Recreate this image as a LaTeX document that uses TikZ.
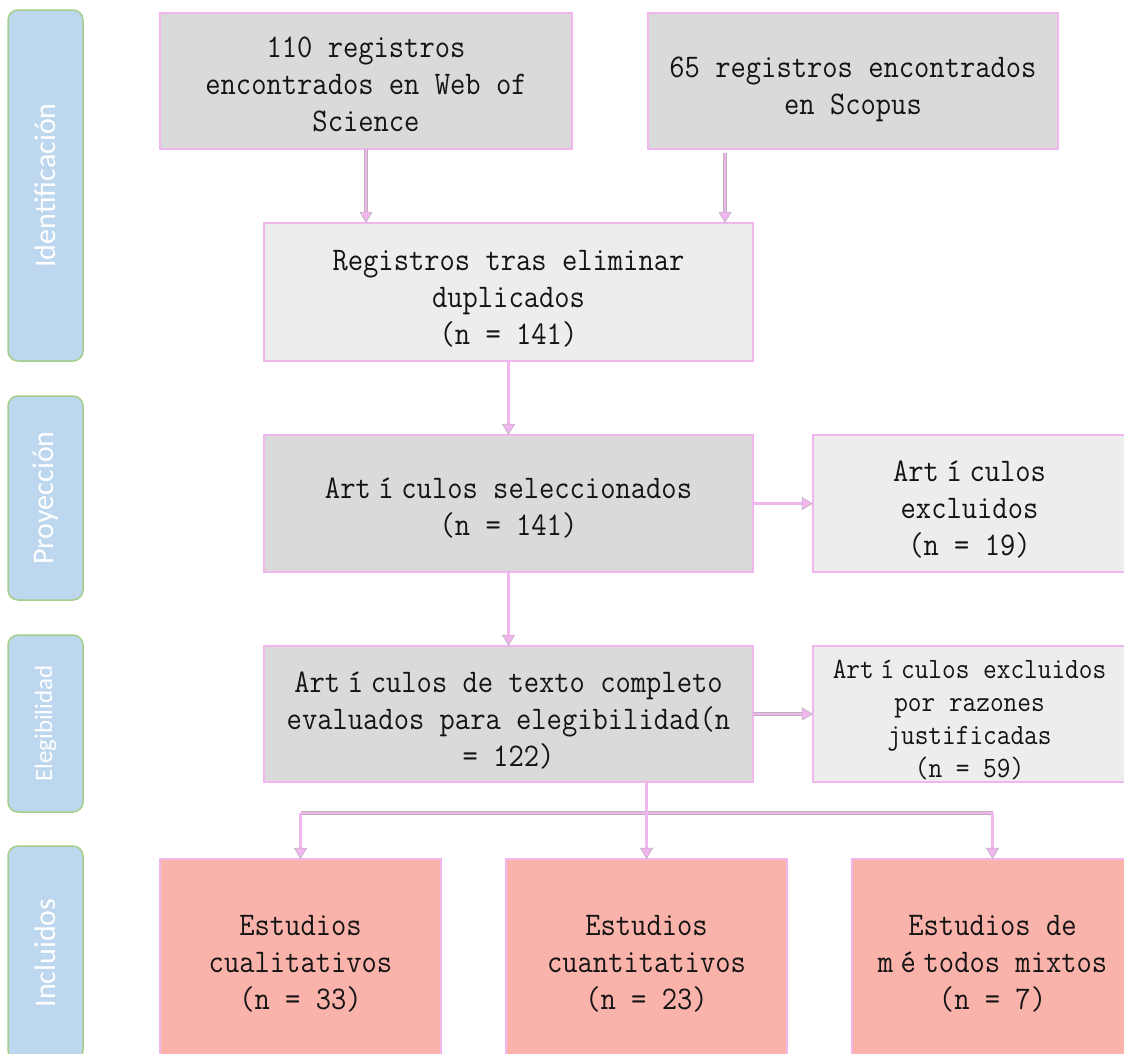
\documentclass[tikz,border=0pt]{standalone}
\usepackage{fontspec}
\setmainfont{Latin Modern Mono}[FakeStretch=0.9]
\newfontfamily\sidefont{Carlito}
\usetikzlibrary{arrows.meta}
\definecolor{boxgray}{HTML}{DADADA}
\definecolor{boxlight}{HTML}{EDEDED}
\definecolor{boxsalmon}{HTML}{FAB3AA}
\definecolor{pinkline}{HTML}{F2B6EE}
\definecolor{edgegray}{HTML}{BCB0BC}
\definecolor{sideblue}{HTML}{BDD7EE}
\definecolor{sidegreen}{HTML}{A6CE8B}
\newcommand{\fw}[1]{\setbox0\hbox{xx}\makebox[\wd0][c]{#1}}
\newcommand{\bt}[2][0pt]{\raisebox{#1}[\height][\depth]{\begin{tabular}{@{}c@{}}#2\end{tabular}}}
\begin{document}
\begin{tikzpicture}[x=1pt,y=-1pt,
  basebox/.style={draw=edgegray, line width=0.35pt, double=pinkline, double distance=1.1pt,
    inner sep=0pt, text=black!92, font=\fontsize{33}{37}\selectfont},
  gbox/.style={basebox, fill=boxgray},
  lbox/.style={basebox, fill=boxlight},
  sbox/.style={basebox, fill=boxsalmon},
  side/.style={draw=sidegreen, line width=1.5pt, fill=sideblue, rounded corners=10pt,
    text=white, inner sep=0pt, font=\sidefont\fontsize{30}{36}\selectfont},
  conn/.style={draw=pinkline, line width=2.2pt,
    preaction={draw=edgegray, line width=3.2pt, shorten >=9pt, -},
    -{Triangle[length=11pt,width=13pt,fill=pinkline,color=edgegray,line width=0.6pt]}},
  connline/.style={draw=pinkline, line width=2.2pt,
    preaction={draw=edgegray, line width=3.2pt}}
]
\useasboundingbox (0,0) rectangle (1124,1053);
\fill[white] (0,0) rectangle (1124,1053);

% side labels
\node[side, rotate=90, minimum width=351, minimum height=75] (sid) at (45.5,185.5) {Identificación};
\node[side, rotate=90, minimum width=204, minimum height=75] (spr) at (45.5,498) {Proyección};
\node[side, rotate=90, minimum width=177, minimum height=75, font=\sidefont\fontsize{25}{30}\selectfont] (sel) at (45.5,723.5) {Elegibilidad};
\node[side, rotate=90, minimum width=214, minimum height=75] (sin) at (45.5,953) {Incluidos};

% boxes
\node[gbox, minimum width=412, minimum height=136] (wos) at (366,81) {\bt[-6pt]{110 registros\\encontrados en Web of\\Science}};
\node[gbox, minimum width=410, minimum height=136] (scopus) at (853,81) {\bt[-8pt]{65 registros encontrados\\en Scopus}};
\node[lbox, minimum width=489, minimum height=138] (reg) at (508.5,292) {\bt[-8pt]{Registros tras eliminar\\duplicados\\(n = 141)}};
\node[gbox, minimum width=489, minimum height=137] (selec) at (508.5,503.5) {\bt[-6pt]{Art\fw{í}culos seleccionados\\(n = 141)}};
\node[lbox, minimum width=313, minimum height=137] (ex1) at (969.5,503.5) {\bt[-8pt]{Art\fw{í}culos\\excluidos\\(n = 19)}};
\node[gbox, minimum width=489, minimum height=136] (texto) at (508.5,714) {\bt[-8pt]{Art\fw{í}culos de texto completo\\evaluados para elegibilidad(n\\= 122)}};
\node[lbox, minimum width=313, minimum height=136, font=\fontsize{29.5}{33}\selectfont] (ex2) at (969.5,714) {\bt[-7pt]{Art\fw{í}culos excluidos\\por razones\\justificadas\\(n = 59)}};
\node[sbox, minimum width=281, minimum height=210] (inc1) at (300.5,964) {\bt[-1pt]{Estudios\\cualitativos\\(n = 33)}};
\node[sbox, minimum width=281, minimum height=210] (inc2) at (646.5,964) {\bt[-1pt]{Estudios\\cuantitativos\\(n = 23)}};
\node[sbox, minimum width=281, minimum height=210] (inc3) at (992.5,964) {\bt[-1pt]{Estudios de\\m\fw{é}todos mixtos\\(n = 7)}};

% connectors
\coordinate (scstart) at (725,153);
\coordinate (split) at (0,813);
\draw[conn] (wos.south) -- (wos.south |- reg.north);
\draw[conn] (scstart) -- (scstart |- reg.north);
\draw[conn] (reg.south) -- (selec.north);
\draw[conn] (selec.south) -- (texto.north);
\draw[conn] (selec.east) -- (selec.east -| ex1.west);
\draw[conn] (texto.east) -- (texto.east -| ex2.west);
\draw[connline] (inc1.north |- split) -- (inc3.north |- split);
\draw[conn] (inc2.north |- texto.south) -- (inc2.north);
\draw[conn] (inc1.north |- split) -- (inc1.north);
\draw[conn] (inc3.north |- split) -- (inc3.north);
\end{tikzpicture}
\end{document}
